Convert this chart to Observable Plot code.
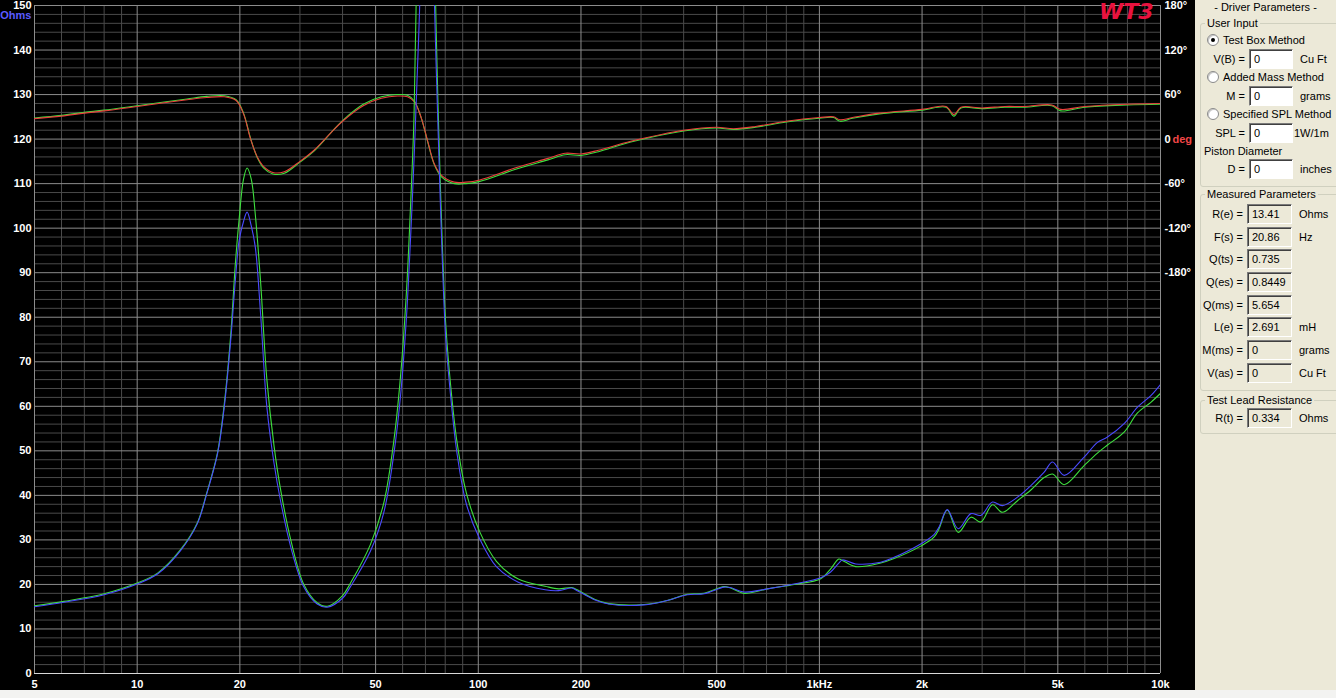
<!DOCTYPE html>
<html><head><meta charset="utf-8">
<script src="https://cdn.jsdelivr.net/npm/d3@7"></script>
<script src="https://cdn.jsdelivr.net/npm/@observablehq/plot@0.6"></script>
<style>
body{margin:0;background:#f3f3f1;width:1336px;height:698px;overflow:hidden;position:relative;font-family:"Liberation Sans",Arial,sans-serif;}
#chart{position:absolute;left:0;top:0;width:1195px;height:690px;background:#000;overflow:hidden;}
#panel{position:absolute;left:1195px;top:0;width:141px;height:690px;background:#ece9d8;font-size:11px;color:#000;overflow:hidden;}
.t{position:absolute;white-space:nowrap;line-height:13px;}
.r{text-align:right;}
.box{position:absolute;border:1px solid #d0d0bf;border-radius:3px;}
.lg{position:absolute;background:#ece9d8;padding:0 2px;white-space:nowrap;line-height:13px;}
.in{position:absolute;box-sizing:border-box;height:20px;border-top:1px solid #7a7a7a;border-left:1px solid #7a7a7a;border-right:1px solid #fff;border-bottom:1px solid #fff;box-shadow:inset 1px 1px 0 #404040;padding-left:4px;line-height:18px;white-space:nowrap;}
.radio{position:absolute;width:12px;height:12px;border-radius:50%;box-sizing:border-box;background:#fff;border:1px solid #8a8a8a;box-shadow:inset 1px 1px 0 #c8c8c8;}
.dot{position:absolute;left:3px;top:3px;width:4px;height:4px;border-radius:50%;background:#000;}
</style></head>
<body>
<div id="chart"></div>
<div id="panel"></div>
<script>
// ---------------- data ----------------
const xTicks = [5,10,20,50,100,200,500,1000,2000,5000,10000];
const xTickLabels = ["5","10","20","50","100","200","500","1kHz","2k","5k","10k"];
const yTicks = d3.range(0,151,10);
const phaseTicks = [180,120,60,0,-60,-120,-180];
const phaseTickLabels = ["180°","120°","60°","0","-60°","-120°","-180°"];

const impFreq = [5,6.1,8,10,11.5,13.4,15,16,17.2,18,18.8,19.4,19.9,20.5,21,21.6,22.2,23,24,25.2,26.3,28.2,30.8,33.7,36.1,40,42.2,48.3,52.9,56.6,59.2,61.6,63.3,64.8,66.1,67.6,70.5,74.1,75.5,76.7,78.4,80.2,82.9,86.6,92.3,101,113,131,157,172,188,195,220,241,306,358,410,459,525,549,601,704,843,1009,1079,1140,1168,1278,1513,1656,1981,2167,2243,2370,2553,2781,2973,3217,3440,3809,4168,4560,4825,5219,5970,6534,6990,7823,8563,9370,10000];
const impBlue = [15.0,16.0,17.7,20.1,22.4,27.6,33.6,40.4,49.3,59.8,74.8,88.3,97.2,101.5,103.6,100.5,95.7,80.8,59.8,47.1,38.9,28.4,19.4,15.6,14.9,16.9,19.5,27.5,36.3,49.5,62.6,80.2,97.7,115.3,132.8,155,260,155,132.8,115.3,93.3,75.8,62.6,49.5,38,30.2,24,20.5,18.8,18.6,19.2,18.6,16.5,15.6,15.4,16.4,17.7,17.9,19.4,19.3,18.3,19.0,20.1,21.5,22.8,24.8,25.5,24.6,25.0,26.1,29.1,31.2,32.9,36.8,32.5,35.9,35.5,38.5,37.7,39.6,42.2,45.2,47.5,44.5,48.6,51.9,53.1,56.1,59.8,62.4,64.9];
const impGreen = [15.2,16.2,17.9,20.3,22.6,27.8,33.8,40.6,49.6,60.5,76,92,102,111,113.5,111,103,88,66,51,41.5,30,20,15.9,15.1,17.5,20.3,29,38.5,52.5,67,86,105,125,160,220,320,170,140,120,97,79,65,52,40.5,31.8,25.2,21.2,19.6,19.0,19.3,18.8,16.6,15.7,15.5,16.4,17.8,18.0,19.5,19.2,18.0,19.0,20.0,21.3,23.5,25.7,25.4,24.0,24.8,25.8,28.6,30.6,32.5,36.7,31.7,35.1,34.0,37.9,36.2,38.8,41.2,44.0,44.8,42.4,46.7,49.5,51.3,54.2,58.5,60.9,62.9];

const phaseFreq = [5,6,7,8,10,12,14,16,18,19.5,20.5,21.5,22.5,23.5,25,27,30,33,36.9,40,46,52,58,62,65,68,71,74.4,78,85,92,101,128,160,180,200,225,280,400,500,560,650,800,1000,1100,1150,1250,1500,2000,2350,2480,2600,3000,3500,4000,4800,5100,6000,8000,10000];
const phaseRed = [27.6,31,35,38,44,49,53,56,57,52,34,0,-24,-37,-45,-44,-30,-15,8,24,45,55,58,57,50,29,-2,-34,-49,-58,-58,-55,-39,-26,-19,-20,-15,-3,12,16,14,17,24,29,30,26,29,35,40,44,33,43,42,44,44,46,40,44,47,48];
const phaseGreen = [28.5,32,36,39,45,50,54,57.5,58.5,53,35,1,-25,-39,-47,-46,-31,-16,8,25,47,57,60,59,51,29,-3,-35,-51,-60,-60,-57,-41,-28,-21,-22,-17,-4,11,15,13,16,23,28,29,24,28,34,39,43,31,42,41,43,43,45,38,43,46,47];

// measured / user panel values
const userRows = [
  {radio:"Test Box Method", checked:true, lbl:"V(B) =", val:"0", unit:"Cu Ft"},
  {radio:"Added Mass Method", checked:false, lbl:"M =", val:"0", unit:"grams"},
  {radio:"Specified SPL Method", checked:false, lbl:"SPL =", val:"0", unit:"1W/1m"}
];
const measLabels = ["R(e) =","F(s) =","Q(ts) =","Q(es) =","Q(ms) =","L(e) =","M(ms) =","V(as) ="];
const measValues = ["13.41","20.86","0.735","0.8449","5.654","2.691","0","0"];
const measUnits = ["Ohms","Hz","","","","mH","grams","Cu Ft"];

// ---------------- chart ----------------
const toY = d => 120 + d / 6; // phase degrees -> ohm axis
const imp = impFreq.map((f,i)=>({f, blue:impBlue[i], green:impGreen[i]}));
const ph = phaseFreq.map((f,i)=>({f, red:phaseRed[i], green:phaseGreen[i]}));

const xMinor = [];
for (const dec of [1,10,100,1000]) for (let m=1;m<10;m++){const v=m*dec; if(v>=5&&v<=10000&&!xTicks.includes(v)) xMinor.push(v);}
const yMinor = d3.range(0,151,2).filter(v=>v%10!==0);

const minorC = "#4a4a4a", majorC = "#8c8c8c";
const chart = Plot.plot({
  width:1195, height:690,
  marginLeft:34, marginRight:35, marginTop:5, marginBottom:17,
  style:{background:"#000", color:"#fff", fontFamily:"Liberation Sans, Arial, sans-serif"},
  x:{type:"log", domain:[5,10000], label:null, axis:null},
  y:{domain:[0,150], label:null},
  marks:[
    Plot.ruleY(yMinor,{stroke:minorC, strokeWidth:1}),
    Plot.ruleX(xMinor,{stroke:minorC, strokeWidth:1}),
    Plot.ruleY(yTicks,{stroke:majorC, strokeWidth:1}),
    Plot.ruleX(xTicks,{stroke:majorC, strokeWidth:1}),
    Plot.ruleY([0],{stroke:"#d8d8d8", strokeWidth:1.2}),
    Plot.line(ph,{x:"f", y:d=>toY(d.green), stroke:"#3ee03e", strokeWidth:1.1, curve:"catmull-rom", clip:true}),
    Plot.line(ph,{x:"f", y:d=>toY(d.red), stroke:"#e8403c", strokeWidth:1.1, curve:"catmull-rom", clip:true}),
    Plot.line(imp,{x:"f", y:"green", stroke:"#3ee03e", strokeWidth:1.1, curve:"catmull-rom", clip:true}),
    Plot.line(imp,{x:"f", y:"blue", stroke:"#4a4aff", strokeWidth:1.1, curve:"catmull-rom", clip:true}),
    Plot.text(xTicks,{x:d=>d, y:()=>0, text:(d,i)=>xTickLabels[i], dy:11, textAnchor:"middle", fill:"#fff", fontSize:11, fontWeight:"bold"}),
    Plot.axisY(yTicks,{anchor:"left", tickSize:0, tickPadding:3, fontSize:11, fontWeight:"bold"}),
    Plot.text(["Ohms"],{x:()=>5, y:()=>150, dx:-3, dy:10, textAnchor:"end", fill:"#5a5aff", fontSize:11, fontWeight:"bold"}),
    Plot.text(phaseTicks,{x:()=>10000, y:d=>toY(d), text:(d,i)=>phaseTickLabels[i], dx:4, textAnchor:"start", fill:"#fff", fontSize:11, fontWeight:"bold"}),
    Plot.text(["deg"],{x:()=>10000, y:()=>toY(0), dx:12, textAnchor:"start", fill:"#f04646", fontSize:11, fontWeight:"bold"}),
    Plot.text(["WT3"],{frameAnchor:"top-right", dx:-7, dy:-2, textAnchor:"end", lineAnchor:"top", fill:"#e8123e", fontSize:22, fontWeight:"bold", fontStyle:"italic", fontFamily:"DejaVu Sans"})
  ]
});
document.getElementById("chart").appendChild(chart);

// ---------------- panel ----------------
const P = document.getElementById("panel");
function el(cls, css, text){const d=document.createElement("div"); d.className=cls; Object.assign(d.style,css); if(text!=null) d.textContent=text; P.appendChild(d); return d;}
el("t",{left:"0px",top:"1px",width:"141px",textAlign:"center"},"- Driver Parameters -");

// User input group
el("box",{left:"5px",top:"23px",width:"150px",height:"162px"});
el("lg",{left:"10px",top:"16.5px"},"User Input");
const radioY=[40,77,114], rowY=[59,96,133];
userRows.forEach((r,i)=>{
  const rd = el("radio",{left:"12px",top:(radioY[i]-6)+"px"});
  if(r.checked){const d=document.createElement("div"); d.className="dot"; rd.appendChild(d);}
  el("t",{left:"28px",top:(radioY[i]-6.5)+"px"},r.radio);
  el("t r",{left:"0px",width:"50px",top:(rowY[i]-6.5)+"px"},r.lbl);
  el("in",{left:"54px",width:"44px",top:(rowY[i]-10)+"px",background:"#fff"},r.val);
  el("t",{left:(i===2?"99px":"105px"),top:(rowY[i]-6.5)+"px"},r.unit);
});
el("t",{left:"9px",top:"144.5px"},"Piston Diameter");
el("t r",{left:"0px",width:"50px",top:"162.5px"},"D =");
el("in",{left:"54px",width:"44px",top:"159px",background:"#fff"},"0");
el("t",{left:"105px",top:"162.5px"},"inches");

// Measured group
el("box",{left:"5px",top:"194px",width:"150px",height:"195px"});
el("lg",{left:"10px",top:"187.5px"},"Measured Parameters");
const measY=[214,237,259,282,305,327,350,373];
measLabels.forEach((l,i)=>{
  el("t r",{left:"0px",width:"48px",top:(measY[i]-6.5)+"px"},l);
  el("in",{left:"52px",width:"45px",top:(measY[i]-10)+"px",background:"#ece9d8"},measValues[i]);
  if(measUnits[i]) el("t",{left:"104px",top:(measY[i]-6.5)+"px"},measUnits[i]);
});

// Test lead group
el("box",{left:"5px",top:"400px",width:"150px",height:"32px"});
el("lg",{left:"10px",top:"393.5px"},"Test Lead Resistance");
el("t r",{left:"0px",width:"48px",top:"411.5px"},"R(t) =");
el("in",{left:"52px",width:"45px",top:"408px",background:"#ece9d8"},"0.334");
el("t",{left:"104px",top:"411.5px"},"Ohms");
</script>
</body></html>
